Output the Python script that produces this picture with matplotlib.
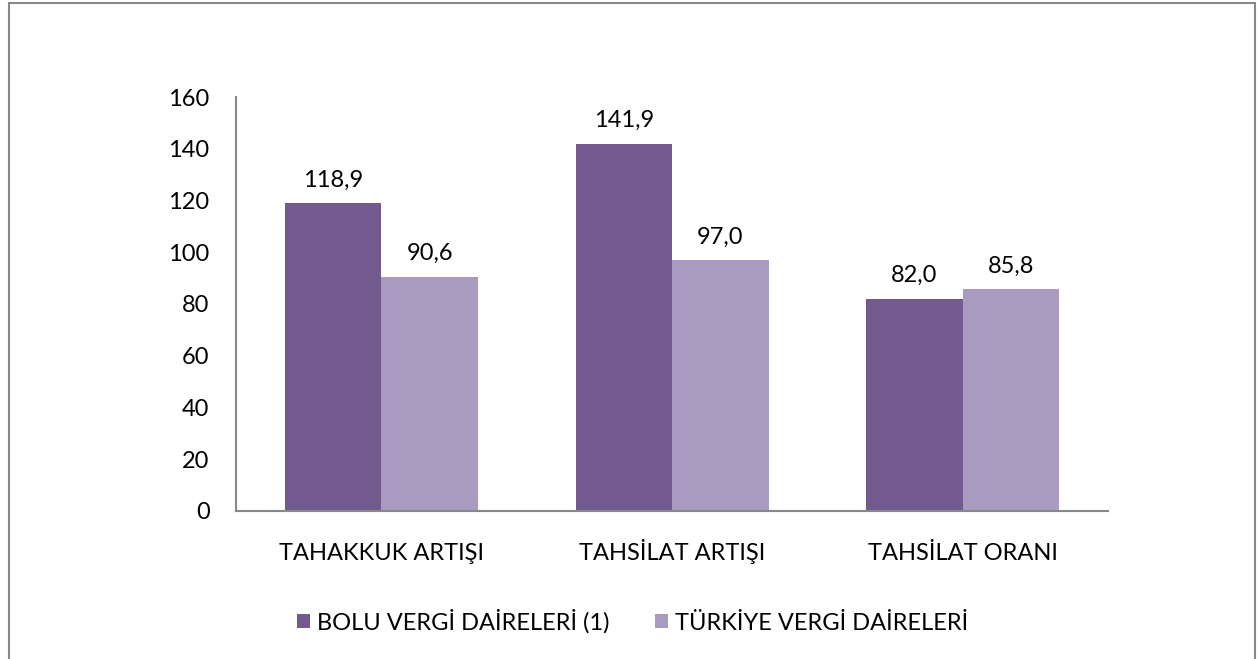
import numpy as np
import matplotlib.pyplot as plt
from matplotlib.patches import Rectangle

plt.rcParams['font.family'] = ['Lato', 'DejaVu Sans']

categories = ["TAHAKKUK ARTIŞI", "TAHSİLAT ARTIŞI", "TAHSİLAT ORANI"]
bolu = [118.9, 141.9, 82.0]
turkiye = [90.6, 97.0, 85.8]
series_names = ["BOLU VERGİ DAİRELERİ (1)", "TÜRKİYE VERGİ DAİRELERİ"]
dark = "#725a8f"
light = "#a99bbf"

fig = plt.figure(figsize=(12.58, 6.59), dpi=100)
ax = fig.add_axes([0.1876, 0.2246, 0.6932, 0.6282])

x = np.arange(len(categories))
w = 0.332
b1 = ax.bar(x - w/2, bolu, w, color=dark, label=series_names[0])
b2 = ax.bar(x + w/2, turkiye, w, color=light, label=series_names[1])

for bars, vals in ((b1, bolu), (b2, turkiye)):
    for r, v in zip(bars, vals):
        ax.annotate(f"{v:.1f}".replace(".", ","),
                    (r.get_x() + r.get_width()/2, v),
                    xytext=(0, 9), textcoords="offset points",
                    ha="center", va="bottom", fontsize=17)

ax.set_xlim(-0.5, 2.5)
ax.set_ylim(0, 160)
ax.set_yticks(range(0, 161, 20))
ax.set_xticks(x)
ax.set_xticklabels(categories, va="baseline")
ax.tick_params(axis='both', length=0, labelsize=17)
ax.tick_params(axis='y', pad=19)
ax.tick_params(axis='x', pad=35)
for s in ("top", "right"):
    ax.spines[s].set_visible(False)
for s in ("left", "bottom"):
    ax.spines[s].set_color("#888888")
    ax.spines[s].set_linewidth(1.5)

fig.legend(handles=[b1, b2], loc="center", bbox_to_anchor=(0.503, 0.057),
           ncol=2, frameon=False, fontsize=17, handlelength=0.55,
           handleheight=0.55, handletextpad=0.3, columnspacing=1.9)

fig.patches.append(Rectangle((0.007, -0.01), 0.991, 1.005, transform=fig.transFigure,
                             fill=False, edgecolor="#888888", linewidth=1.5))

fig.savefig("out.png", dpi=100)
